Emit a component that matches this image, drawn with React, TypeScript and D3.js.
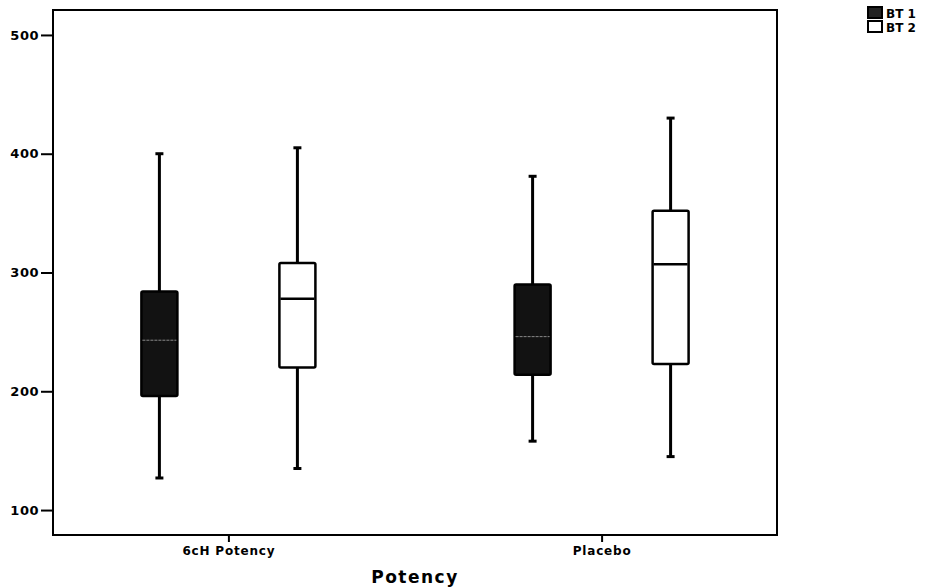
import { useEffect, useRef } from "react";
import * as d3 from "d3";

const categories = ["6cH Potency", "Placebo"];
const series = ["BT 1", "BT 2"];
// [whiskerLow, q1, median, q3, whiskerHigh] per category, per series
const bt1 = [
  [127, 196, 243, 284, 400],
  [158, 214, 246, 290, 381],
];
const bt2 = [
  [135, 220, 278, 308, 405],
  [145, 223, 307, 352, 430],
];
const yTicks = [100, 200, 300, 400, 500];

const App = () => {
  const ref = useRef<SVGSVGElement>(null);

  useEffect(() => {
    const width = 933, height = 588;
    const left = 53, right = 777, top = 10, bottom = 535;
    const font = "DejaVu Sans, Verdana, sans-serif";

    const svg = d3.select(ref.current)
      .html("")
      .attr("width", width)
      .attr("height", height);

    const y = d3.scaleLinear().domain([79, 521]).range([bottom, top]);
    const x = d3.scalePoint<string>().domain(categories).range([left, right]).padding(0.47);
    const offset = d3.scalePoint<string>().domain(series).range([-69, 69]);
    const boxW = 36, capW = 8;

    // frame
    svg.append("rect")
      .attr("x", left).attr("y", top)
      .attr("width", right - left).attr("height", bottom - top)
      .attr("fill", "white").attr("stroke", "black").attr("stroke-width", 2);

    // y axis
    const yAxis = svg.append("g")
      .attr("transform", `translate(${left},0)`)
      .call(d3.axisLeft(y).tickValues(yTicks).tickSize(12).tickSizeOuter(0).tickPadding(2));
    yAxis.select(".domain").remove();
    yAxis.selectAll("line").attr("stroke-width", 2);
    yAxis.selectAll("text")
      .style("font-family", font).style("font-size", "13px").style("font-weight", "bold")
      .style("letter-spacing", "0.5px");

    // x axis
    const xAxis = svg.append("g")
      .attr("transform", `translate(0,${bottom})`)
      .call(d3.axisBottom(x).tickSize(7).tickSizeOuter(0).tickPadding(4));
    xAxis.select(".domain").remove();
    xAxis.selectAll("line").attr("stroke-width", 2);
    xAxis.selectAll("text")
      .style("font-family", font).style("font-size", "12px").style("font-weight", "bold")
      .style("letter-spacing", "0.8px");

    svg.append("text")
      .attr("x", 415).attr("y", 583)
      .attr("text-anchor", "middle")
      .style("font-family", font).style("font-size", "17px").style("font-weight", "bold")
      .style("letter-spacing", "1.5px")
      .text("Potency");

    const drawBoxes = (data: number[][], s: string, fill: string, medianColor: string, medianDash: string) => {
      data.forEach((d, i) => {
        const cx = (x(categories[i]) as number) + (offset(s) as number);
        const [lo, q1, med, q3, hi] = d;
        const g = svg.append("g");
        g.append("line")
          .attr("x1", cx).attr("x2", cx).attr("y1", y(hi)).attr("y2", y(q3))
          .attr("stroke", "black").attr("stroke-width", 3);
        g.append("line")
          .attr("x1", cx).attr("x2", cx).attr("y1", y(q1)).attr("y2", y(lo))
          .attr("stroke", "black").attr("stroke-width", 3);
        [hi, lo].forEach(v => {
          g.append("line")
            .attr("x1", cx - capW / 2).attr("x2", cx + capW / 2)
            .attr("y1", y(v)).attr("y2", y(v))
            .attr("stroke", "black").attr("stroke-width", 3);
        });
        g.append("rect")
          .attr("x", cx - boxW / 2).attr("y", y(q3))
          .attr("width", boxW).attr("height", y(q1) - y(q3))
          .attr("rx", 1.5)
          .attr("fill", fill).attr("stroke", "black").attr("stroke-width", 2.5);
        g.append("line")
          .attr("x1", cx - boxW / 2 + 1).attr("x2", cx + boxW / 2 - 1)
          .attr("y1", y(med)).attr("y2", y(med))
          .attr("stroke", medianColor).attr("stroke-width", fill === "white" ? 2.5 : 1)
          .attr("stroke-dasharray", medianDash);
      });
    };

    drawBoxes(bt1, "BT 1", "#121212", "#8a8a8a", "3,1");
    drawBoxes(bt2, "BT 2", "white", "black", "none");

    // legend
    const legend = svg.append("g").attr("transform", "translate(867,6)");
    series.forEach((s, i) => {
      const row = legend.append("g").attr("transform", `translate(0,${i * 14})`);
      row.append("rect")
        .attr("x", 1).attr("y", 1).attr("width", 14).attr("height", 11)
        .attr("fill", i === 0 ? "#222" : "white")
        .attr("stroke", "black").attr("stroke-width", 2);
      row.append("text")
        .attr("x", 19).attr("y", 11.5)
        .style("font-family", font).style("font-size", "12px").style("font-weight", "bold")
        .text(s);
    });
  }, []);

  return <svg ref={ref} style={{ position: "absolute", left: 0, top: 0 }}></svg>;
};

export default App;
